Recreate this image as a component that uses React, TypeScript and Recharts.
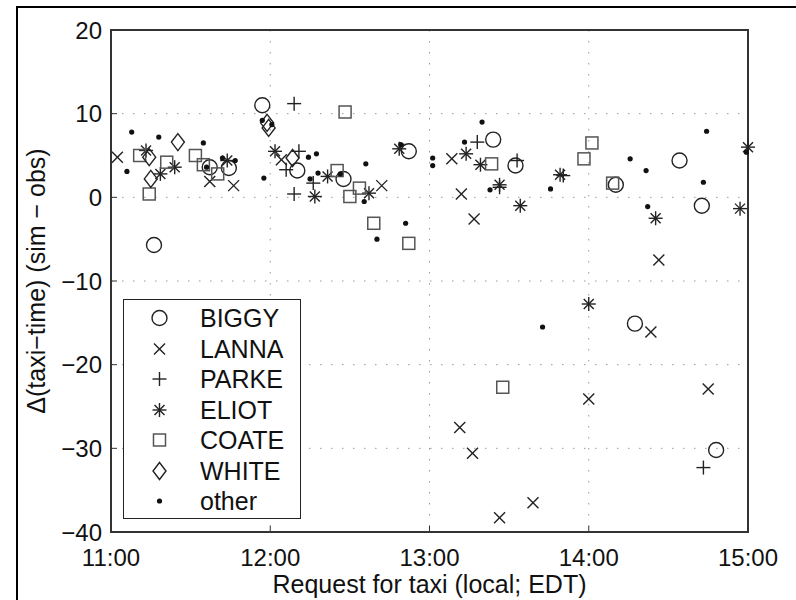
import React from "react";
import {
  ScatterChart,
  Scatter,
  XAxis,
  YAxis,
  CartesianGrid,
  ReferenceArea,
  Legend,
} from "recharts";

// request time (decimal hours, local EDT) vs taxi-time error (sim - obs, minutes)
const biggy = [
  { t: 11.27, d: -5.7 }, { t: 11.62, d: 3.6 }, { t: 11.74, d: 3.5 }, { t: 11.95, d: 11.0 },
  { t: 12.17, d: 3.2 }, { t: 12.46, d: 2.2 }, { t: 12.87, d: 5.5 }, { t: 13.4, d: 6.9 },
  { t: 13.54, d: 3.8 }, { t: 14.17, d: 1.5 }, { t: 14.29, d: -15.1 }, { t: 14.57, d: 4.4 },
  { t: 14.71, d: -1.0 }, { t: 14.8, d: -30.2 },
];

const lanna = [
  { t: 11.04, d: 4.8 }, { t: 11.62, d: 1.9 }, { t: 11.77, d: 1.4 }, { t: 12.07, d: 4.5 },
  { t: 12.7, d: 1.4 }, { t: 13.14, d: 4.6 }, { t: 13.2, d: 0.4 }, { t: 13.28, d: -2.6 },
  { t: 13.19, d: -27.5 }, { t: 13.27, d: -30.6 }, { t: 13.44, d: -38.3 }, { t: 13.65, d: -36.5 },
  { t: 14.0, d: -24.1 }, { t: 14.39, d: -16.1 }, { t: 14.44, d: -7.5 }, { t: 14.75, d: -22.9 },
];

const parke = [
  { t: 12.1, d: 3.3 }, { t: 12.15, d: 11.2 }, { t: 12.15, d: 0.4 }, { t: 12.18, d: 5.5 },
  { t: 12.27, d: 1.7 }, { t: 13.3, d: 6.6 }, { t: 13.44, d: 1.2 }, { t: 13.55, d: 4.4 },
  { t: 13.84, d: 2.6 }, { t: 14.72, d: -32.3 },
];

const eliot = [
  { t: 11.22, d: 5.6 }, { t: 11.31, d: 2.8 }, { t: 11.4, d: 3.6 }, { t: 11.73, d: 4.4 },
  { t: 12.03, d: 5.5 }, { t: 12.28, d: 0.1 }, { t: 12.36, d: 2.5 }, { t: 12.62, d: 0.5 },
  { t: 12.81, d: 5.8 }, { t: 13.23, d: 5.2 }, { t: 13.32, d: 3.9 }, { t: 13.44, d: 1.5 },
  { t: 13.57, d: -1.0 }, { t: 13.82, d: 2.7 }, { t: 14.0, d: -12.75 }, { t: 14.42, d: -2.5 },
  { t: 14.95, d: -1.35 }, { t: 15.0, d: 6.0 },
];

const coate = [
  { t: 11.18, d: 5.0 }, { t: 11.24, d: 0.4 }, { t: 11.35, d: 4.2 }, { t: 11.53, d: 5.0 },
  { t: 11.58, d: 3.9 }, { t: 11.67, d: 2.8 }, { t: 12.42, d: 3.2 }, { t: 12.47, d: 10.2 },
  { t: 12.5, d: 0.1 }, { t: 12.56, d: 1.1 }, { t: 12.65, d: -3.1 }, { t: 12.87, d: -5.5 },
  { t: 13.39, d: 4.0 }, { t: 13.46, d: -22.7 }, { t: 13.97, d: 4.6 }, { t: 14.02, d: 6.5 },
  { t: 14.15, d: 1.7 },
];

const white = [
  { t: 11.24, d: 4.8 }, { t: 11.25, d: 2.2 }, { t: 11.42, d: 6.6 }, { t: 11.98, d: 8.9 },
  { t: 11.99, d: 8.3 }, { t: 12.14, d: 4.7 },
];

const other = [
  { t: 11.1, d: 3.1 }, { t: 11.13, d: 7.8 }, { t: 11.3, d: 7.2 }, { t: 11.6, d: 3.6 },
  { t: 11.58, d: 6.5 }, { t: 11.7, d: 4.7 }, { t: 11.78, d: 4.4 }, { t: 11.95, d: 9.2 },
  { t: 12.01, d: 8.7 }, { t: 11.96, d: 2.3 }, { t: 12.24, d: 4.8 }, { t: 12.29, d: 5.2 },
  { t: 12.25, d: 2.2 }, { t: 12.3, d: 2.9 }, { t: 12.44, d: 2.8 }, { t: 12.6, d: 4.0 },
  { t: 12.59, d: -0.5 }, { t: 12.67, d: -5.0 }, { t: 12.82, d: 6.3 }, { t: 12.85, d: -3.1 },
  { t: 13.02, d: 4.7 }, { t: 13.02, d: 3.8 }, { t: 13.22, d: 6.6 }, { t: 13.33, d: 9.0 },
  { t: 13.38, d: 0.9 }, { t: 13.71, d: -15.5 }, { t: 13.76, d: 1.0 }, { t: 14.26, d: 4.6 },
  { t: 14.36, d: 3.2 }, { t: 14.37, d: -1.1 }, { t: 14.72, d: 1.8 }, { t: 14.74, d: 7.9 },
  { t: 14.99, d: 5.4 },
];

const hourTicks = [11, 12, 13, 14, 15];
const deltaTicks = [-40, -30, -20, -10, 0, 10, 20];

const series = [
  { name: "BIGGY", kind: "circle", data: biggy },
  { name: "LANNA", kind: "x", data: lanna },
  { name: "PARKE", kind: "plus", data: parke },
  { name: "ELIOT", kind: "star", data: eliot },
  { name: "COATE", kind: "square", data: coate },
  { name: "WHITE", kind: "diamond", data: white },
  { name: "other", kind: "dot", data: other },
];

const FONT = '"Liberation Sans", Arial, Helvetica, sans-serif';
const INK = "#222";

function Mark({ kind, cx, cy }: { kind: string; cx: number; cy: number }) {
  if (cx == null || cy == null) return null;
  const s = { stroke: INK, strokeWidth: 1.4, fill: "none" };
  switch (kind) {
    case "circle":
      return <circle cx={cx} cy={cy} r={7.5} {...s} />;
    case "x":
      return (
        <g {...s}>
          <line x1={cx - 5.5} y1={cy - 5.5} x2={cx + 5.5} y2={cy + 5.5} />
          <line x1={cx - 5.5} y1={cy + 5.5} x2={cx + 5.5} y2={cy - 5.5} />
        </g>
      );
    case "plus":
      return (
        <g {...s}>
          <line x1={cx - 7} y1={cy} x2={cx + 7} y2={cy} />
          <line x1={cx} y1={cy - 7} x2={cx} y2={cy + 7} />
        </g>
      );
    case "star":
      return (
        <g {...s}>
          <line x1={cx - 7} y1={cy} x2={cx + 7} y2={cy} />
          <line x1={cx} y1={cy - 7} x2={cx} y2={cy + 7} />
          <line x1={cx - 5} y1={cy - 5} x2={cx + 5} y2={cy + 5} />
          <line x1={cx - 5} y1={cy + 5} x2={cx + 5} y2={cy - 5} />
        </g>
      );
    case "square":
      return <rect x={cx - 6} y={cy - 6} width={12} height={12} stroke="#555" strokeWidth={1.5} fill="none" />;
    case "diamond":
      return (
        <polygon
          points={`${cx},${cy - 8.5} ${cx + 6.5},${cy} ${cx},${cy + 8.5} ${cx - 6.5},${cy}`}
          {...s}
        />
      );
    default:
      return <circle cx={cx} cy={cy} r={2.6} fill="#111" />;
  }
}

// legend keeps the plotting order, not alphabetical
function LegendBox(props: any) {
  const shown = new Set((props.payload || []).map((p: any) => p.value));
  const items = series.filter((s) => shown.size === 0 || shown.has(s.name));
  return (
    <div
      style={{
        width: 178,
        height: 220,
        boxSizing: "border-box",
        border: `1.5px solid ${INK}`,
        background: "#fff",
        paddingTop: 3,
        fontFamily: FONT,
        fontSize: 25,
        color: "#111",
      }}
    >
      {items.map((it) => (
        <div key={it.name} style={{ display: "flex", alignItems: "center", height: 30.5 }}>
          <svg width={76} height={30} style={{ flex: "none" }}>
            <Mark kind={it.kind} cx={35.5} cy={15} />
          </svg>
          <span style={{ lineHeight: "30px" }}>{it.name}</span>
        </div>
      ))}
    </div>
  );
}

const TICK_GAP_X = 17; // tickSize + tickMargin on the time axis
const TICK_GAP_Y = 9; // tickSize + tickMargin on the delta axis

// tick label plus a short inward tick mark at the axis
function HourTick(props: any) {
  const { x, y, payload } = props;
  return (
    <g>
      <line x1={x} x2={x} y1={y - TICK_GAP_X} y2={y - TICK_GAP_X - 6} stroke="#333" />
      <text x={x} y={y} dy="0.71em" textAnchor="middle" fontSize={24} fill="#111" fontFamily={FONT}>
        {`${payload.value}:00`}
      </text>
    </g>
  );
}

function DeltaTick(props: any) {
  const { x, y, payload } = props;
  const v = payload.value;
  return (
    <g>
      <line x1={x + TICK_GAP_Y} x2={x + TICK_GAP_Y + 6} y1={y} y2={y} stroke="#333" />
      <text x={x} y={y} dy="0.355em" textAnchor="end" fontSize={24} fill="#111" fontFamily={FONT}>
        {v < 0 ? `\u2212${-v}` : `${v}`}
      </text>
    </g>
  );
}

export default function App() {
  return (
    <div
      style={{
        position: "absolute",
        left: 0,
        top: 0,
        width: 796,
        height: 600,
        overflow: "hidden",
        background: "#fff",
      }}
    >
      <div
        style={{
          position: "absolute",
          left: 16,
          top: 6,
          width: 900,
          height: 700,
          borderTop: "2px solid #000",
          borderLeft: "2px solid #000",
        }}
      />
      <div style={{ position: "absolute", left: 0, top: 0 }}>
        <ScatterChart
          width={796}
          height={600}
          margin={{ top: 30, right: 48, bottom: 0, left: 51 }}
        >
          <CartesianGrid stroke="#999" strokeWidth={1} strokeDasharray="1.5 9.5" />
          <XAxis
            type="number"
            dataKey="t"
            domain={[11, 15]}
            ticks={hourTicks}
            axisLine={false}
            tickLine={false}
            tickSize={6}
            tickMargin={11}
            height={68}
            tick={<HourTick />}
            label={{
              value: "Request for taxi (local; EDT)",
              position: "insideBottom",
              offset: 7,
              style: { fontSize: 25, fill: "#111", fontFamily: FONT },
            }}
          />
          <YAxis
            type="number"
            dataKey="d"
            domain={[-40, 20]}
            ticks={deltaTicks}
            axisLine={false}
            tickLine={false}
            tickSize={6}
            tickMargin={3}
            width={60}
            tick={<DeltaTick />}
            label={{
              value: "\u0394(taxi\u2212time) (sim \u2212 obs)",
              angle: -90,
              position: "left",
              offset: 15,
              style: { fontSize: 25, fill: "#111", fontFamily: FONT, textAnchor: "middle" },
            }}
          />
          <ReferenceArea
            x1={11}
            x2={15}
            y1={-40}
            y2={20}
            fill="none"
            fillOpacity={0}
            stroke="#333"
            strokeWidth={2}
            ifOverflow="visible"
          />
          {series.map((s) => (
            <Scatter
              key={s.name}
              name={s.name}
              data={s.data}
              isAnimationActive={false}
              shape={(p: any) => <Mark kind={s.kind} cx={p.cx} cy={p.cy} />}
            />
          ))}
          <Legend
            layout="vertical"
            align="center"
            verticalAlign="middle"
            content={<LegendBox />}
            wrapperStyle={{ left: 123, top: 299, width: 178, height: 220 }}
          />
        </ScatterChart>
      </div>
    </div>
  );
}
